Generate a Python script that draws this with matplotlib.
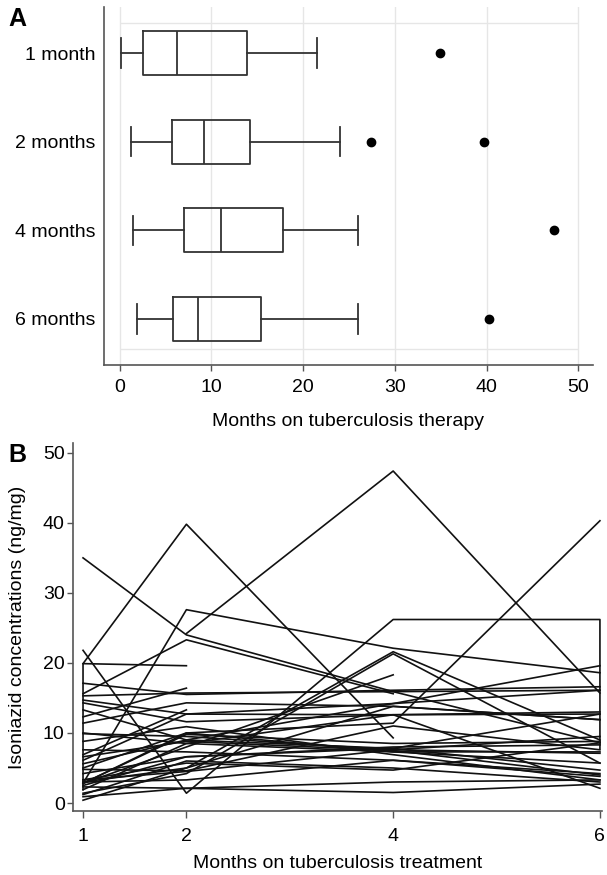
import numpy as np
import matplotlib.pyplot as plt
import pandas as pd

plt.rcParams['font.family'] = ['Liberation Sans', 'DejaVu Sans']

# Panel A - box summaries (ng/mg)
visits = ['1 month', '2 months', '4 months', '6 months']
whisker_lo = [0.2, 1.2, 1.5, 1.9]
q1 = [2.6, 5.7, 7.0, 5.8]
median = [6.3, 9.2, 11.1, 8.6]
q3 = [13.9, 14.2, 17.8, 15.4]
whisker_hi = [21.5, 24.0, 26.0, 26.0]
outliers = [[34.9], [27.4, 39.7], [47.4], [40.3]]

# Panel B - one row per measurement (subject, month, concentration)
subject = [1, 1, 1, 1, 2, 2, 2, 3, 3, 3, 4, 4, 4, 5, 5, 5, 5,
           6, 6, 6, 6, 6, 7, 7, 7, 8, 8, 8, 8, 9, 9, 9, 10, 10, 11, 11,
           12, 12, 12, 12, 13, 13, 13, 13, 14, 14, 14, 14, 15, 15, 15, 15,
           16, 16, 16, 16, 17, 17, 17, 17, 18, 18, 18, 18, 19, 19, 19, 19,
           20, 20, 20, 20, 21, 21, 21, 21, 22, 22, 22, 22, 23, 23, 23, 23,
           24, 24, 24, 24, 25, 25, 25, 25, 26, 26, 26, 26, 27, 27, 27, 27,
           28, 28, 28, 28, 29, 29, 29, 29, 30, 30, 30, 30, 31, 31, 31, 31,
           32, 32, 32, 32, 33, 33, 33, 33, 34, 34, 34, 34,
           35, 35, 35, 35, 36, 36, 36, 36, 37, 37, 37, 37, 38, 38, 38, 38,
           39, 39, 39, 39]
month = [1, 2, 4, 6, 2, 4, 6, 1, 2, 4, 1, 2, 4, 1, 2, 4, 6,
         1, 2, 4, 6, 6, 1, 1, 2, 1, 2, 4, 6, 1, 2, 4, 1, 2, 1, 2,
         1, 2, 4, 6, 1, 2, 4, 6, 1, 2, 4, 6, 1, 2, 4, 6,
         1, 2, 4, 6, 1, 2, 4, 6, 1, 2, 4, 6, 1, 2, 4, 6,
         1, 2, 4, 6, 1, 2, 4, 6, 1, 2, 4, 6, 1, 2, 4, 6,
         1, 2, 4, 6, 1, 2, 4, 6, 1, 2, 4, 6, 1, 2, 4, 6,
         1, 2, 4, 6, 1, 2, 4, 6, 1, 2, 4, 6, 1, 2, 4, 6,
         1, 2, 4, 6, 1, 2, 4, 6, 1, 2, 4, 6,
         1, 2, 4, 6, 1, 2, 4, 6, 1, 2, 4, 6, 1, 2, 4, 6,
         1, 2, 4, 6]
conc = [35.0, 24.0, 15.9, 8.6, 24.2, 47.4, 15.7, 15.6, 23.3, 15.6,
        19.9, 39.8, 9.3, 2.8, 27.6, 22.1, 18.6,
        21.8, 1.4, 26.2, 26.2, 7.8, 1.9, 19.9, 19.6,
        5.0, 10.0, 11.4, 40.3, 2.8, 8.0, 18.3, 12.3, 16.4, 6.9, 13.3,
        3.0, 5.0, 21.6, 9.0, 1.4, 4.2, 21.3, 5.7,
        17.1, 15.5, 16.1, 16.6, 15.3, 15.7, 15.9, 16.1,
        14.7, 12.7, 14.2, 19.6, 14.3, 11.6, 12.6, 12.7,
        13.3, 9.0, 7.8, 4.7, 11.4, 14.3, 13.8, 11.9,
        10.0, 8.5, 7.3, 7.3, 8.8, 10.9, 6.9, 3.3,
        7.6, 7.3, 6.1, 4.2, 6.1, 12.7, 12.6, 13.0,
        5.6, 9.0, 14.2, 16.1, 4.2, 6.6, 7.8, 12.7,
        3.3, 5.7, 4.7, 8.6, 3.0, 3.3, 6.1, 3.8,
        2.3, 2.1, 3.0, 3.3, 0.9, 2.1, 1.5, 2.7,
        0.4, 5.0, 13.8, 11.9, 1.9, 8.5, 12.6, 2.1,
        2.8, 10.0, 7.3, 5.7, 2.5, 6.6, 8.0, 8.3,
        9.9, 9.5, 7.6, 7.1,
        2.8, 9.8, 8.5, 8.8, 3.3, 4.5, 7.6, 9.5, 1.2, 6.0, 5.0, 3.0,
        6.6, 8.8, 7.5, 4.0,
        4.8, 4.6, 11.0, 7.6]

df = pd.DataFrame({'subject': subject, 'month': month, 'conc': conc})

fig = plt.figure(figsize=(6.07, 8.75), dpi=100)
axA = fig.add_axes([104/607, 1 - 365/875, 489/607, 358/875])
axB = fig.add_axes([73/607, 1 - 811/875, 529/607, 368/875])

spine_col = '#555555'
box_col = '#333333'

# ---- panel A ----
stats = []
for i in range(len(visits)):
    stats.append({'label': visits[i], 'whislo': whisker_lo[i], 'q1': q1[i],
                  'med': median[i], 'q3': q3[i], 'whishi': whisker_hi[i],
                  'fliers': outliers[i]})
pos = np.arange(len(visits))
line_kw = dict(color=box_col, linewidth=1.3)
axA.bxp(stats, positions=pos, orientation='horizontal', widths=0.5,
        capwidths=0.33, boxprops=line_kw, medianprops=line_kw,
        whiskerprops=line_kw, capprops=line_kw,
        flierprops=dict(marker='o', markerfacecolor='black',
                        markeredgecolor='black', markersize=6))
axA.set_xlim(-1.7, 51.6)
axA.set_ylim(3.52, -0.52)
axA.set_xticks([0, 10, 20, 30, 40, 50])
axA.set_yticks(pos)
axA.set_yticklabels(visits)
for xv in [0, 10, 20, 30, 40, 50]:
    axA.axvline(xv, color='#e6e6e6', linewidth=1, zorder=0)
axA.hlines([-0.34, 3.34], 0, 50, color='#e6e6e6', linewidth=1, zorder=0)
axA.tick_params(axis='y', length=0, pad=6, labelsize=14)
axA.tick_params(axis='x', length=4, width=1, color=spine_col, pad=6, labelsize=14)
axA.set_xlabel('Months on tuberculosis therapy', fontsize=14)
axA.xaxis.set_label_coords(0.5, -0.158)
axA.xaxis.label.set_va('center')

# ---- panel B ----
for sid, g in df.groupby('subject', sort=False):
    axB.plot(g['month'], g['conc'], color='#111111', linewidth=1.2)
axB.set_xlim(0.903, 6.02)
axB.set_ylim(-1.14, 51.4)
axB.set_xticks([1, 2, 4, 6])
axB.set_yticks([0, 10, 20, 30, 40, 50])
axB.tick_params(axis='y', length=4, width=1, color=spine_col, pad=2, labelsize=14)
axB.tick_params(axis='x', length=5, width=1, color=spine_col, pad=7, labelsize=14)
axB.set_xlabel('Months on tuberculosis treatment', fontsize=14)
axB.xaxis.set_label_coords(0.5, -0.144)
axB.xaxis.label.set_va('center')
axB.set_ylabel('Isoniazid concentrations (ng/mg)', fontsize=14)
axB.yaxis.set_label_coords(-0.104, 0.5)
axB.yaxis.label.set_va('center')

for ax in (axA, axB):
    ax.spines['top'].set_visible(False)
    ax.spines['right'].set_visible(False)
    for s in ('left', 'bottom'):
        ax.spines[s].set_color(spine_col)
        ax.spines[s].set_linewidth(1.2)

fig.text(17/607, 1 - 19/875, 'A', fontsize=18, fontweight='bold', ha='center', va='center')
fig.text(17/607, 1 - 455/875, 'B', fontsize=18, fontweight='bold', ha='center', va='center')

fig.savefig('out.png', dpi=100)
